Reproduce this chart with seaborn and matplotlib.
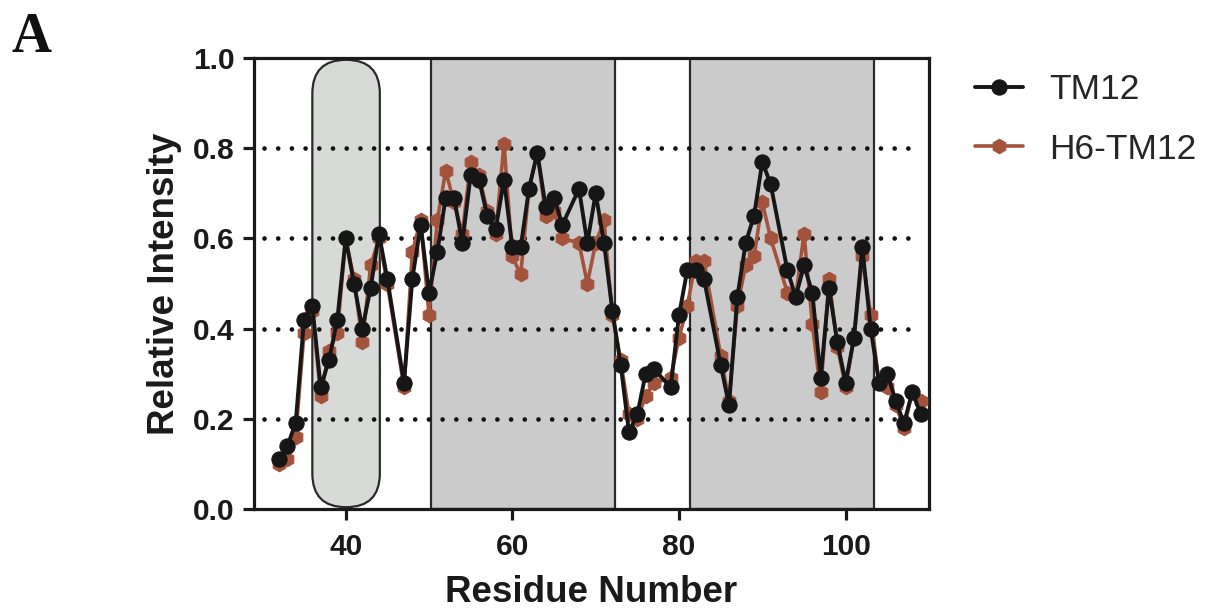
import numpy as np
import pandas as pd
import matplotlib
matplotlib.use("Agg")
import matplotlib.pyplot as plt
import seaborn as sns
from matplotlib.patches import FancyBboxPatch

# ---------------- data ----------------
residues = (list(range(32, 46)) + list(range(47, 67)) + list(range(68, 78)) +
            list(range(79, 84)) + list(range(85, 92)) + list(range(93, 110)))

tm12 = [0.11, 0.14, 0.19, 0.42, 0.45, 0.27, 0.33, 0.42, 0.60, 0.50, 0.40, 0.49, 0.61, 0.51,
        0.28, 0.51, 0.63, 0.48, 0.57, 0.69, 0.69, 0.59, 0.74, 0.73, 0.65, 0.62, 0.73, 0.58,
        0.58, 0.71, 0.79, 0.67, 0.69, 0.63,
        0.71, 0.59, 0.70, 0.59, 0.44, 0.32, 0.17, 0.21, 0.30, 0.31,
        0.27, 0.43, 0.53, 0.53, 0.51,
        0.32, 0.23, 0.47, 0.59, 0.65, 0.77, 0.72,
        0.53, 0.47, 0.54, 0.48, 0.29, 0.49, 0.37, 0.28, 0.38, 0.58, 0.40, 0.28, 0.30, 0.24,
        0.19, 0.26, 0.21]

h6_tm12 = [0.10, 0.11, 0.16, 0.39, 0.44, 0.25, 0.35, 0.39, 0.60, 0.51, 0.37, 0.54, 0.60, 0.50,
           0.27, 0.57, 0.64, 0.43, 0.64, 0.75, 0.68, 0.61, 0.77, 0.74, 0.66, 0.61, 0.81, 0.56,
           0.52, 0.71, 0.79, 0.65, 0.66, 0.60,
           0.59, 0.50, 0.59, 0.64, 0.43, 0.33, 0.21, 0.20, 0.25, 0.28,
           0.29, 0.38, 0.45, 0.55, 0.55,
           0.34, 0.24, 0.45, 0.54, 0.56, 0.68, 0.60,
           0.48, 0.47, 0.61, 0.41, 0.26, 0.51, 0.36, 0.27, 0.38, 0.56, 0.43, 0.28, 0.27, 0.23,
           0.18, 0.26, 0.24]

series_names = ["TM12", "H6-TM12"]
gray_regions = [(50.25, 72.33), (81.33, 103.45)]
pill_region = (36.0, 44.1)
x_ticks = [40, 60, 80, 100]
y_ticks = [0.0, 0.2, 0.4, 0.6, 0.8, 1.0]
grid_levels = [0.2, 0.4, 0.6, 0.8]

df = pd.DataFrame({
    "Residue Number": residues * 2,
    "Relative Intensity": tm12 + h6_tm12,
    "Construct": [series_names[0]] * len(residues) + [series_names[1]] * len(residues),
})

# ---------------- style ----------------
sns.set_theme(style="white")
plt.rcParams["font.family"] = ["Liberation Sans", "DejaVu Sans"]

fig = plt.figure(figsize=(12.1, 6.12), dpi=100)
ax = fig.add_axes([254 / 1210, 1 - 509 / 612, (929 - 254) / 1210, (509 - 58) / 612])

xmin, xmax = 29, 110
ax.set_xlim(xmin, xmax)
ax.set_ylim(0, 1.0)

# shaded regions
for (a, b) in gray_regions:
    ax.axvspan(a, b, facecolor="#cbcbcb", edgecolor="#2a2a2a", linewidth=1.6, zorder=0.5)

# pill-shaped region
px_per_x = 675 / (xmax - xmin)
px_per_y = 451 / 1.0
w = pill_region[1] - pill_region[0]
aspect = (px_per_x / px_per_y)
pill = FancyBboxPatch((pill_region[0], 0.004), w, 0.992,
                      boxstyle=f"round,pad=0,rounding_size={w/2}",
                      mutation_aspect=aspect,
                      facecolor="#d8dad8", edgecolor="#2a2a2a", linewidth=1.6, zorder=0.6)
ax.add_patch(pill)

# dotted grid lines
for yv in grid_levels:
    ax.axhline(yv, xmin=0.015, xmax=0.985, color="#111111", linewidth=3.4,
               linestyle=(0, (0.001, 2.9)), dash_capstyle="round", zorder=1)

brown = "#a3533c"
black = "#161616"

sns.lineplot(data=df[df["Construct"] == "H6-TM12"], x="Residue Number", y="Relative Intensity",
             color=brown, marker="h", markersize=10.5, markeredgecolor=brown, linewidth=2.6,
             ax=ax, label="H6-TM12", zorder=3)
sns.lineplot(data=df[df["Construct"] == "TM12"], x="Residue Number", y="Relative Intensity",
             color=black, marker="o", markersize=11, markeredgecolor=black, linewidth=2.8,
             ax=ax, label="TM12", zorder=4)

# axes styling
for s in ax.spines.values():
    s.set_visible(True)
    s.set_linewidth(2.3)
    s.set_color("#1a1a1a")
ax.set_xticks(x_ticks)
ax.set_yticks(y_ticks)
ax.set_yticklabels([f"{v:.1f}" for v in y_ticks])
ax.tick_params(axis="both", direction="out", length=8, width=2.3, color="#1a1a1a",
               labelsize=21.5, bottom=True, left=True)
ax.tick_params(axis="x", pad=9)
ax.tick_params(axis="y", pad=6)
for lab in ax.get_xticklabels() + ax.get_yticklabels():
    lab.set_fontweight("bold")
    lab.set_color("#1a1a1a")

ax.set_xlabel("Residue Number", fontsize=26.5, fontweight="bold", color="#1a1a1a", labelpad=10)
ax.set_ylabel("Relative Intensity", fontsize=26.5, fontweight="bold", color="#1a1a1a", labelpad=8)
ax.grid(False)

handles, labels = ax.get_legend_handles_labels()
order = [labels.index("TM12"), labels.index("H6-TM12")]
ax.legend([handles[i] for i in order], [labels[i] for i in order],
          loc="upper left", bbox_to_anchor=(975 / 1210, 1 - 73 / 612),
          bbox_transform=fig.transFigure, frameon=False, fontsize=25.5,
          handlelength=1.35, handletextpad=0.75, labelspacing=0.75, borderpad=0, borderaxespad=0)

fig.text(12 / 1210, 1 - 52 / 612, "A", fontsize=40, fontweight="bold",
         family=["Liberation Serif", "DejaVu Serif"], color="#111111", va="baseline")

fig.savefig("out.png", dpi=100)
